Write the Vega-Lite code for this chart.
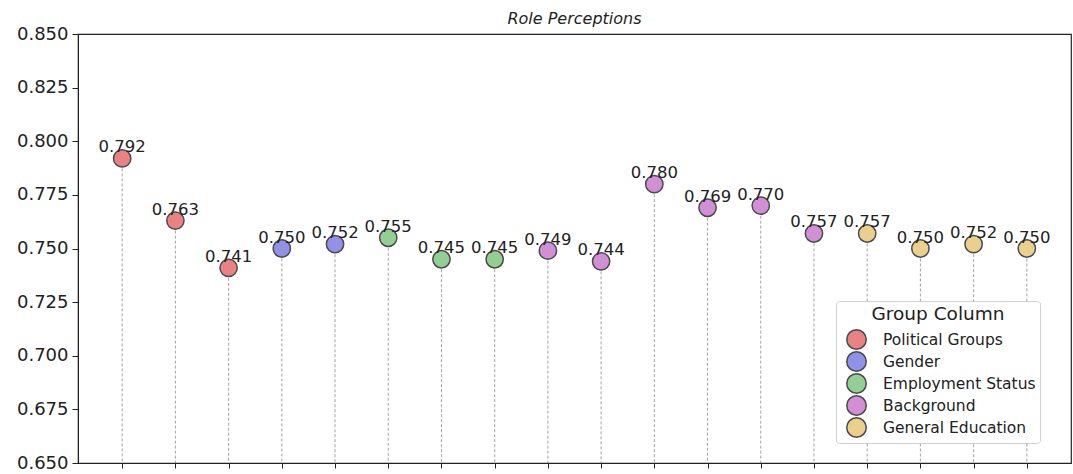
{
  "$schema": "https://vega.github.io/schema/vega-lite/v6.json",
  "width": 993,
  "height": 429,
  "autosize": "none",
  "padding": {"left": 78, "top": 34, "right": 2, "bottom": 11},
  "title": {"text": "Role Perceptions", "fontStyle": "italic", "fontWeight": "normal", "fontSize": 16, "font": "DejaVu Sans", "color": "#222", "offset": -2},
  "config": {
    "font": "DejaVu Sans",
    "view": {"stroke": "#222", "strokeWidth": 1.2},
    "axis": {"grid": false, "domainColor": "#222", "tickColor": "#222", "labelColor": "#222", "labelFont": "DejaVu Sans"}
  },
  "data": {"values": [
    {"id": 1, "group": "Political Groups", "value": 0.792},
    {"id": 2, "group": "Political Groups", "value": 0.763},
    {"id": 3, "group": "Political Groups", "value": 0.741},
    {"id": 4, "group": "Gender", "value": 0.750},
    {"id": 5, "group": "Gender", "value": 0.752},
    {"id": 6, "group": "Employment Status", "value": 0.755},
    {"id": 7, "group": "Employment Status", "value": 0.745},
    {"id": 8, "group": "Employment Status", "value": 0.745},
    {"id": 9, "group": "Background", "value": 0.749},
    {"id": 10, "group": "Background", "value": 0.744},
    {"id": 11, "group": "Background", "value": 0.780},
    {"id": 12, "group": "Background", "value": 0.769},
    {"id": 13, "group": "Background", "value": 0.770},
    {"id": 14, "group": "Background", "value": 0.757},
    {"id": 15, "group": "General Education", "value": 0.757},
    {"id": 16, "group": "General Education", "value": 0.750},
    {"id": 17, "group": "General Education", "value": 0.752},
    {"id": 18, "group": "General Education", "value": 0.750}
  ]},
  "encoding": {
    "x": {"field": "id", "type": "ordinal", "scale": {"type": "point", "padding": 0.83},
      "axis": {"title": null, "labels": false, "ticks": true, "tickSize": 5, "domain": true}},
    "y": {"field": "value", "type": "quantitative",
      "scale": {"domain": [0.65, 0.85], "zero": false, "nice": false},
      "axis": {"title": null, "values": [0.65, 0.675, 0.7, 0.725, 0.75, 0.775, 0.8, 0.825, 0.85], "format": ".3f", "labelFontSize": 18, "tickSize": 6, "labelPadding": 4}}
  },
  "layer": [
    {
      "mark": {"type": "rule", "strokeDash": [3, 2], "color": "#8c8c8c", "strokeWidth": 0.8},
      "encoding": {"y2": {"datum": 0.65}}
    },
    {
      "mark": {"type": "point", "filled": true, "opacity": 1, "stroke": "#4a4a4a", "strokeWidth": 1.5, "size": 300},
      "encoding": {
        "color": {"field": "group", "type": "nominal",
          "scale": {"domain": ["Political Groups", "Gender", "Employment Status", "Background", "General Education"],
                    "range": ["#E98383", "#9191E8", "#93CF93", "#D28FD6", "#EAD08C"]},
          "legend": {"title": "Group Column", "orient": "none", "legendX": 758, "legendY": 267,
            "titleFontSize": 18.5, "titleFontWeight": "normal", "titleAnchor": "middle", "titleColor": "#222", "titlePadding": 5,
            "labelFontSize": 15.5, "labelColor": "#222", "symbolSize": 380, "symbolStrokeColor": "#4a4a4a", "symbolStrokeWidth": 1.5,
            "symbolType": "circle", "rowPadding": 0, "clipHeight": 22, "labelOffset": 16, "symbolOffset": 6,
            "padding": 4, "strokeColor": "#d0d0d0", "fillColor": "white", "cornerRadius": 3}
        }
      }
    },
    {
      "mark": {"type": "text", "baseline": "alphabetic", "dy": -6, "fontSize": 16.5, "color": "#222"},
      "encoding": {"text": {"field": "value", "type": "quantitative", "format": ".3f"}}
    }
  ]
}
